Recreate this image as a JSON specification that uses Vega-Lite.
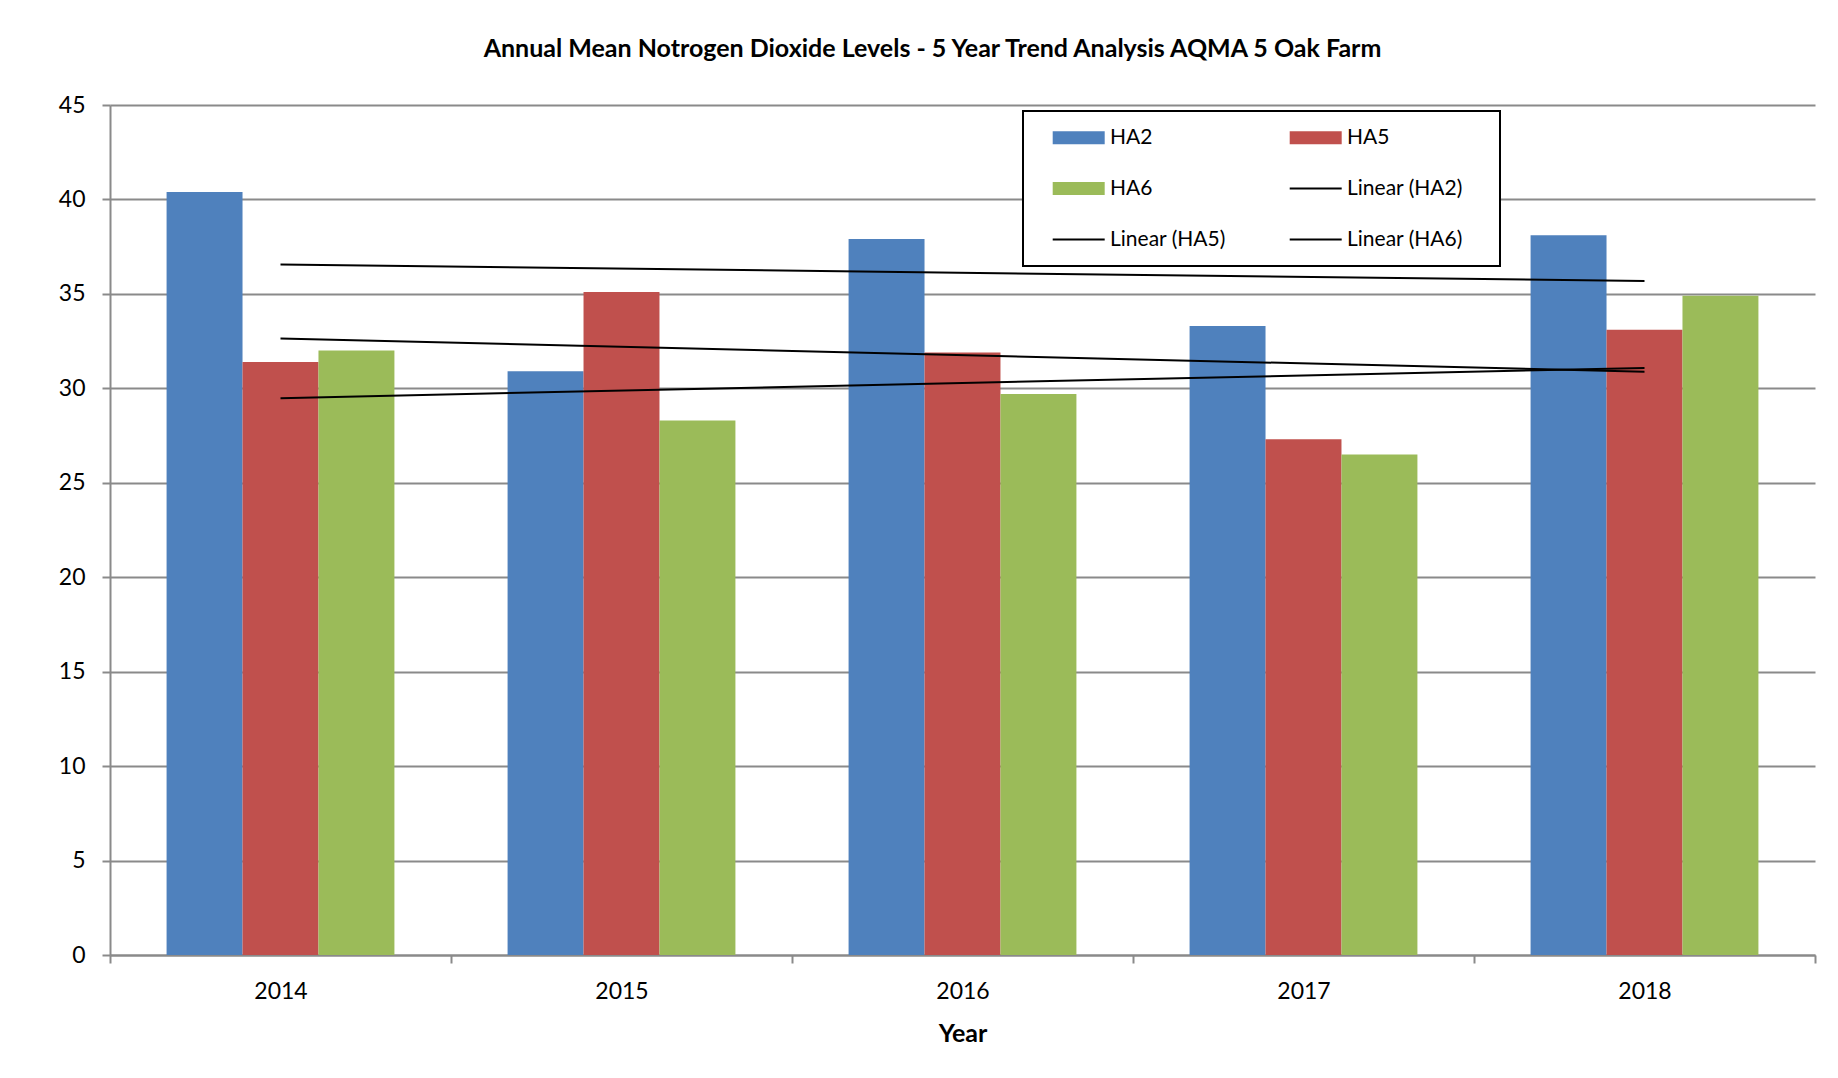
{
  "$schema": "https://vega.github.io/schema/vega-lite/v6.json",
  "width": 1705,
  "height": 850,
  "autosize": {"type": "none"},
  "padding": {"left": 110, "top": 105, "right": 23, "bottom": 123},
  "background": "white",
  "title": {
    "text": "Annual Mean Notrogen Dioxide Levels - 5 Year Trend Analysis AQMA 5 Oak Farm",
    "font": "Lato",
    "fontSize": 25,
    "fontWeight": "bold",
    "color": "black",
    "anchor": "middle",
    "dx": -30,
    "offset": 32
  },
  "datasets": {
    "no2": [
      {"Year": 2014, "Station": "HA2", "NO2": 40.4},
      {"Year": 2014, "Station": "HA5", "NO2": 31.4},
      {"Year": 2014, "Station": "HA6", "NO2": 32.0},
      {"Year": 2015, "Station": "HA2", "NO2": 30.9},
      {"Year": 2015, "Station": "HA5", "NO2": 35.1},
      {"Year": 2015, "Station": "HA6", "NO2": 28.3},
      {"Year": 2016, "Station": "HA2", "NO2": 37.9},
      {"Year": 2016, "Station": "HA5", "NO2": 31.9},
      {"Year": 2016, "Station": "HA6", "NO2": 29.7},
      {"Year": 2017, "Station": "HA2", "NO2": 33.3},
      {"Year": 2017, "Station": "HA5", "NO2": 27.3},
      {"Year": 2017, "Station": "HA6", "NO2": 26.5},
      {"Year": 2018, "Station": "HA2", "NO2": 38.1},
      {"Year": 2018, "Station": "HA5", "NO2": 33.1},
      {"Year": 2018, "Station": "HA6", "NO2": 34.9}
    ]
  },
  "data": {"name": "no2"},
  "layer": [
    {
      "mark": {"type": "bar"},
      "encoding": {
        "x": {
          "field": "Year",
          "type": "ordinal",
          "scale": {"paddingInner": 0, "paddingOuter": 0},
          "axis": {
            "title": "Year",
            "labelAngle": 0,
            "tickBand": "extent",
            "grid": false,
            "titleFont": "Lato",
            "titleFontSize": 25,
            "titleFontWeight": "bold",
            "titleColor": "black",
            "titlePadding": 18
          }
        },
        "xOffset": {
          "field": "Station",
          "type": "nominal",
          "sort": ["HA2", "HA5", "HA6"],
          "scale": {"paddingInner": 0, "paddingOuter": 0.745}
        },
        "y": {
          "field": "NO2",
          "type": "quantitative",
          "scale": {"domain": [0, 45], "nice": false},
          "axis": {
            "title": null,
            "values": [0, 5, 10, 15, 20, 25, 30, 35, 40, 45],
            "grid": true
          }
        },
        "color": {
          "field": "Station",
          "type": "nominal",
          "scale": {
            "domain": ["HA2", "HA6", "Linear (HA5)", "HA5", "Linear (HA2)", "Linear (HA6)"],
            "range": ["#4F81BD", "#9BBB59", "#000000", "#C0504D", "#000000", "#000000"]
          },
          "legend": {
            "orient": "none",
            "legendX": 913,
            "legendY": 6,
            "columns": 2,
            "title": " ",
            "titleOrient": "right",
            "titleFontSize": 1,
            "titlePadding": 21,
            "padding": 16,
            "strokeColor": "black",
            "fillColor": "white",
            "symbolSize": 441,
            "symbolStrokeWidth": 0,
            "symbolOffset": 29.2,
            "labelOffset": 20.8,
            "rowPadding": 29,
            "columnPadding": 50,
            "labelFont": "Lato",
            "labelFontSize": 21,
            "labelColor": "black",
            "encode": {
              "symbols": {
                "update": {
                  "shape": {
                    "signal": "indexof(datum.value, 'Linear') === 0 ? 'M-2.476,-0.086H2.476V0.086H-2.476Z' : 'M-2.476,-0.619H2.476V0.619H-2.476Z'"
                  }
                }
              }
            }
          }
        }
      }
    },
    {
      "transform": [
        {"regression": "NO2", "on": "Year", "groupby": ["Station"], "method": "linear"}
      ],
      "mark": {"type": "line", "color": "black", "strokeWidth": 2},
      "encoding": {
        "x": {
          "field": "Year",
          "type": "quantitative",
          "scale": {"domain": [2013.5, 2018.5], "nice": false, "zero": false},
          "axis": null
        },
        "y": {"field": "NO2", "type": "quantitative"},
        "detail": {"field": "Station"}
      }
    }
  ],
  "resolve": {"scale": {"x": "independent"}},
  "config": {
    "view": {"stroke": null},
    "legend": {"strokeWidth": 2},
    "axis": {
      "domainColor": "#8a8a8a",
      "domainWidth": 2,
      "tickColor": "#8a8a8a",
      "tickWidth": 2,
      "tickSize": 8,
      "gridColor": "#8a8a8a",
      "gridWidth": 2,
      "labelFont": "Lato",
      "labelFontSize": 23,
      "labelColor": "black",
      "labelPadding": 17
    }
  }
}
